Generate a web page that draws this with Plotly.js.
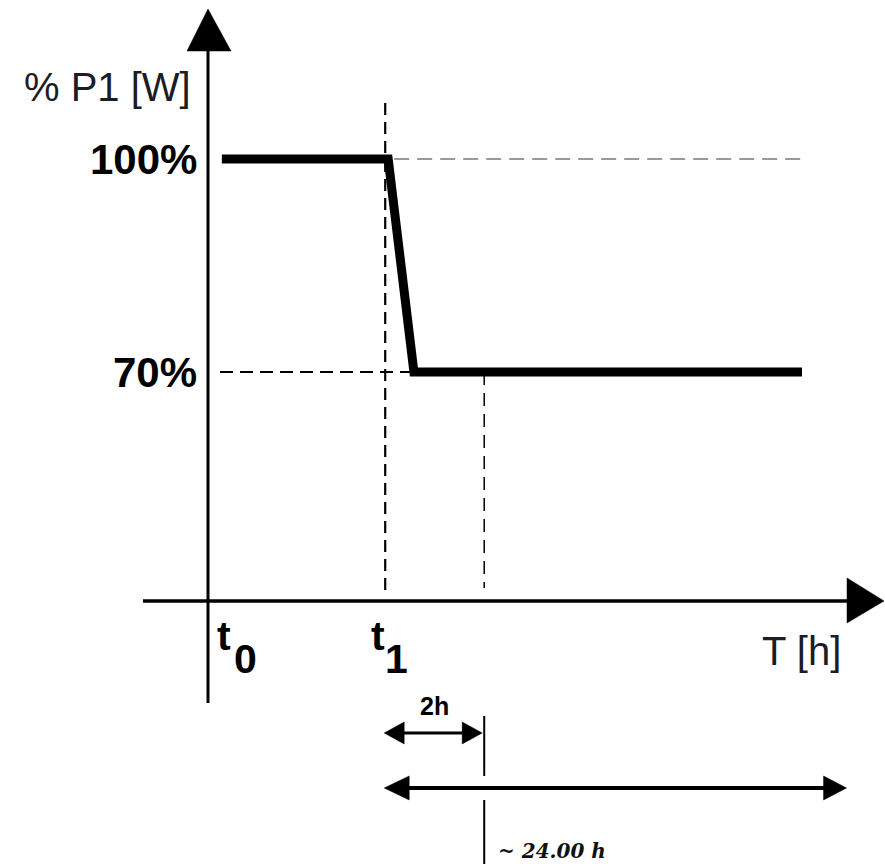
<!DOCTYPE html>
<html>
<head>
<meta charset="utf-8">
<script src="https://cdn.plot.ly/plotly-3.0.1.min.js"></script>
<style>
  html, body { margin: 0; padding: 0; background: #ffffff; }
  #chart { width: 885px; height: 864px; }
</style>
</head>
<body>
<div id="chart"></div>
<script>
// ---- data (schematic power reduction profile) ----
const powerTime = [0.28, 3.64, 4.16, 12.0];   // hours after t0
const powerPct  = [100, 100, 70, 70];         // % of P1
const levelValues = [100, 70];
const levelLabels = ['100%', '70%'];
const t1Time = 3.58;          // t1 in hours
const reductionSpan = 2;      // "2h"
const longSpanEnd = 12.9;     // end of the "~ 24.00 h" arrow
const axisCrossPct = 37.75;   // level at which the time axis is drawn
const axisTitleY = '% P1 [W]';
const axisTitleX = 'T [h]';
const timeLabels = ['t', '0', 't', '1'];
const spanLabelShort = '2h';
const spanLabelLong = '~ 24.00 h';

// ---- scale helpers (pixel sizes -> data units) ----
const W = 885, H = 864;
const PX_PER_H = 49.5, ORIGIN_PX = 208;
const PX_PER_PCT = 7.1, TOP_LEVEL_PX = 159;
const dx = p => p / PX_PER_H;
const dy = p => p / PX_PER_PCT;
const xRange = [-ORIGIN_PX / PX_PER_H, (W - ORIGIN_PX) / PX_PER_H];
const yRange = [100 - (H - TOP_LEVEL_PX) / PX_PER_PCT, 100 + TOP_LEVEL_PX / PX_PER_PCT];

const markTime = t1Time + reductionSpan;
const yAxisBottom = axisCrossPct - dy(102);
const yAxisTop = 100 + dy(108);
const xAxisLeft = -dx(65);
const xAxisRight = xRange[1] - dx(35);
const shortArrowY = axisCrossPct - dy(132);
const longArrowY = axisCrossPct - dy(187);

function tri(points) {
  return 'M ' + points.map(p => p[0] + ',' + p[1]).join(' L ') + ' Z';
}
function line(x0, y0, x1, y1, color, width, dash) {
  return {type: 'line', xref: 'x', yref: 'y', x0, y0, x1, y1,
          line: {color, width, dash: dash || 'solid'}, layer: 'above'};
}
function head(path) {
  return {type: 'path', xref: 'x', yref: 'y', path, fillcolor: '#000',
          line: {color: '#000', width: 0.5}, layer: 'above'};
}
// arrowhead pointing left/right at (x,y) with pixel length/halfheight
function hArrowHead(x, y, len, half, dir) {
  return head(tri([[x, y], [x - dir * dx(len), y + dy(half)], [x - dir * dx(len), y - dy(half)]]));
}

const shapes = [
  // axes
  line(0, yAxisBottom, 0, yAxisTop, '#000', 3),
  head(tri([[0, yAxisTop + dy(42)], [-dx(21), yAxisTop], [dx(23), yAxisTop]])),
  line(xAxisLeft, axisCrossPct, xAxisRight, axisCrossPct, '#000', 3.5),
  head(tri([[xRange[1] - dx(1), axisCrossPct], [xAxisRight - dx(3), axisCrossPct + dy(23)], [xAxisRight - dx(3), axisCrossPct - dy(22)]])),
  // reference dashed lines
  line(t1Time, 100 + dy(56), t1Time, axisCrossPct + dy(10), '#000', 2.2, '12px,7px'),
  line(dx(12), levelValues[1], powerTime[2], levelValues[1], '#000', 2.2, '13px,7px'),
  line(powerTime[1] + dx(6), levelValues[0], powerTime[3] + dx(6), levelValues[0], '#9a9a9a', 2.2, '15px,8px'),
  line(markTime, levelValues[1], markTime, axisCrossPct + dy(13), '#000', 1.5, '13px,8px'),
  // "2h" double arrow
  line(t1Time + dx(6), shortArrowY, markTime - dx(6), shortArrowY, '#000', 3),
  hArrowHead(t1Time - dx(1), shortArrowY, 20, 11, -1),
  hArrowHead(markTime - dx(2), shortArrowY, 20, 11, 1),
  // marker line at t1+2h (broken around long arrow)
  line(markTime, shortArrowY + dy(17), markTime, longArrowY + dy(12), '#000', 2),
  line(markTime, longArrowY - dy(12), markTime, yRange[0], '#000', 2),
  // "~24h" arrow
  line(t1Time + dx(6), longArrowY, longSpanEnd - dx(6), longArrowY, '#000', 4),
  hArrowHead(t1Time - dx(1), longArrowY, 25, 12, -1),
  hArrowHead(longSpanEnd, longArrowY, 23, 12, 1)
];

const boldFont = (s) => ({family: 'Liberation Sans, Arial, sans-serif', size: s, color: '#000', weight: 'bold'});
const plainFont = (s) => ({family: 'Liberation Sans, Arial, sans-serif', size: s, color: '#1c1c24'});

const annotations = [
  {xref: 'x', yref: 'y', x: 0, y: 100 + dy(72), xanchor: 'right', yanchor: 'middle', xshift: -15,
   text: axisTitleY, showarrow: false, font: plainFont(40)},
  {xref: 'x', yref: 'y', x: 0, y: levelValues[0], xanchor: 'right', yanchor: 'middle', xshift: -9,
   text: '<b>' + levelLabels[0] + '</b>', showarrow: false, font: boldFont(42)},
  {xref: 'x', yref: 'y', x: 0, y: levelValues[1], xanchor: 'right', yanchor: 'middle', xshift: -9,
   text: '<b>' + levelLabels[1] + '</b>', showarrow: false, font: boldFont(42)},
  // t0
  {xref: 'x', yref: 'y', x: 0, y: axisCrossPct - dy(35), xanchor: 'left', yanchor: 'middle', xshift: 7,
   text: '<b>' + timeLabels[0] + '</b>', showarrow: false, font: boldFont(41)},
  {xref: 'x', yref: 'y', x: 0, y: axisCrossPct - dy(58), xanchor: 'left', yanchor: 'middle', xshift: 24,
   text: '<b>' + timeLabels[1] + '</b>', showarrow: false, font: boldFont(41)},
  // t1
  {xref: 'x', yref: 'y', x: t1Time, y: axisCrossPct - dy(35), xanchor: 'right', yanchor: 'middle', xshift: 2,
   text: '<b>' + timeLabels[2] + '</b>', showarrow: false, font: boldFont(41)},
  {xref: 'x', yref: 'y', x: t1Time, y: axisCrossPct - dy(58), xanchor: 'left', yanchor: 'middle', xshift: -2,
   text: '<b>' + timeLabels[3] + '</b>', showarrow: false, font: boldFont(41)},
  // T [h]
  {xref: 'x', yref: 'y', x: xRange[1], y: axisCrossPct - dy(50), xanchor: 'right', yanchor: 'middle', xshift: -42,
   text: axisTitleX, showarrow: false, font: plainFont(40)},
  // 2h
  {xref: 'x', yref: 'y', x: t1Time + reductionSpan / 2, y: shortArrowY + dy(27), xanchor: 'center', yanchor: 'middle',
   text: '<b>' + spanLabelShort + '</b>', showarrow: false, font: boldFont(25)},
  // ~24h
  {xref: 'x', yref: 'y', x: markTime, y: longArrowY - dy(63), xanchor: 'left', yanchor: 'middle', xshift: 12,
   text: '<i><b>' + spanLabelLong + '</b></i>', showarrow: false,
   font: {family: 'DejaVu Serif, serif', size: 20, color: '#111', style: 'italic'}}
];

const traces = [{
  type: 'scatter', mode: 'lines', x: powerTime, y: powerPct,
  line: {color: '#000', width: 9}, hoverinfo: 'skip', showlegend: false
}];

const layout = {
  width: W, height: H,
  margin: {l: 0, r: 0, t: 0, b: 0, pad: 0},
  paper_bgcolor: '#ffffff', plot_bgcolor: '#ffffff',
  showlegend: false,
  xaxis: {range: xRange, visible: false, fixedrange: true},
  yaxis: {range: yRange, visible: false, fixedrange: true},
  shapes, annotations
};

Plotly.newPlot('chart', traces, layout, {displayModeBar: false, staticPlot: true});
</script>
</body>
</html>
